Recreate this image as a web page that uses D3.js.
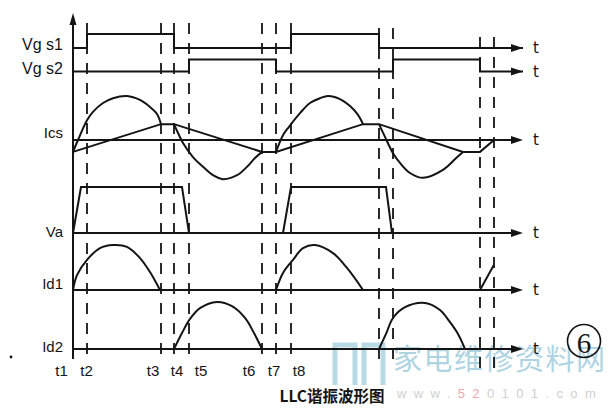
<!DOCTYPE html>
<html><head><meta charset="utf-8">
<script src="https://cdn.jsdelivr.net/npm/d3@7"></script>
<style>html,body{margin:0;padding:0;background:#fff;overflow:hidden}</style>
</head><body><svg id="c" width="614" height="418"></svg>
<script>
// ---------------- data (time in arbitrary units, values per channel) ----------------
const channelNames = ["Vg s1", "Vg s2", "Ics", "Va", "Id1", "Id2"];
const timeLabels = ["t1", "t2", "t3", "t4", "t5", "t6", "t7", "t8"];
const markTimes = [0, 14, 88, 101, 116, 189, 203, 218, 306, 320, 407, 421];
const vgs1 = [[0, 0], [14, 1], [101, 0], [218, 1], [306, 0], [450, 0]];
const vgs2 = [[0, 0], [116, 1], [203, 0], [320, 1], [407, 0], [450, 0]];
const icsArc1 = [[0, -2.7], [5, 0], [14, 4.5], [20, 6.4], [30, 8.4], [40, 9.5], [54, 10], [67, 9.1], [77, 7.5], [84, 5.9], [88, 3.6]];
const icsArc2 = [[101, 3.6], [105, 1.6], [110, -0.7], [120, -3.9], [130, -6.1], [140, -8.0], [150, -8.9], [164, -8.0], [174, -6.1], [182, -4.1], [189, -2.7]];
const icsArc3 = [[203, -2.7], [210, 1.1], [216, 3.0], [227, 6.1], [237, 8.4], [247, 9.5], [255, 10], [267, 9.3], [277, 7.7], [285, 5.7], [290, 3.6]];
const icsArc4 = [[306, 3.6], [312, 0.7], [320, -3.0], [327, -5.2], [337, -7.5], [350, -8.6], [370, -6.8], [384, -3.9], [390, -2.7]];
const imTriangle = [[0, -2.7], [88, 3.6], [101, 3.6], [189, -2.7], [203, -2.7], [290, 3.6], [306, 3.6], [390, -2.7], [407, -2.7], [421, 0]];
const va = [[0, 0], [8, 1], [109, 1], [116, 0], [210, 0], [218, 1], [313, 1], [319, 0]];
const id1Lobe1 = [[0, 0], [4, 0.33], [14, 0.67], [27, 0.93], [40, 1.0], [54, 0.96], [67, 0.71], [77, 0.4], [87, 0]];
const id1Lobe2 = [[203, 0], [210, 0.38], [220, 0.67], [230, 0.93], [242, 1.0], [260, 0.82], [274, 0.49], [290, 0]];
const id1Ramp = [[407, 0], [421, 0.56]];
const id2Lobe1 = [[101, 0], [109, 0.34], [117, 0.64], [127, 0.87], [144, 1.0], [159, 0.91], [172, 0.66], [181, 0.34], [189, 0]];
const id2Lobe2 = [[306, 0], [313, 0.32], [320, 0.66], [332, 0.89], [352, 0.98], [367, 0.83], [377, 0.57], [385, 0.32], [392, 0]];
const caption = "LLC谐振波形图";
const figNumber = "6";
const watermarkName = "家电维修资料网";
const watermarkSite = ["www.", "52", "0101.com"];

// ---------------- layout ----------------
const INK = "#141414";
const svg = d3.select("#c");
svg.append("rect").attr("width", 614).attr("height", 418).attr("fill", "#fff");

const x = d3.scaleLinear().domain([0, 450]).range([73, 523]);
const yS1 = d3.scaleLinear().domain([0, 1]).range([48, 34]);
const yS2 = d3.scaleLinear().domain([0, 1]).range([71.5, 59.5]);
const yIcs = d3.scaleLinear().domain([-10, 10]).range([184, 96]);
const yVa = d3.scaleLinear().domain([0, 1]).range([233, 187]);
const yId1 = d3.scaleLinear().domain([0, 1]).range([290, 245]);
const yId2 = d3.scaleLinear().domain([0, 1]).range([349, 302]);

const labelBase = [50, 74, 138, 237, 289, 352];
const axisYs = [yS1(0), yS2(0), yIcs(0), yVa(0), yId1(0), yId2(0)];
const tickNudge = [-11.5, -0.5, -8, 3, 12, -13, -2, 8];

// watermark (behind)
const wm = svg.append("g").attr("opacity", 0.55);
[[333, 357], [362, 385]].forEach(([a, b]) => {
  wm.append("path").attr("d", `M${a + 2},385 V345 H${b - 2} V385`)
    .attr("fill", "none").attr("stroke", "#7fbcd2").attr("stroke-width", 5);
});
wm.append("text").attr("x", 393).attr("y", 357).attr("dominant-baseline", "central")
  .attr("font-family", "Noto Sans CJK SC").attr("font-size", 29).attr("letter-spacing", 1.5)
  .attr("fill", "#6fb1c9").text(watermarkName);
const site = wm.append("text").attr("x", 397).attr("y", 393).attr("dominant-baseline", "central")
  .attr("font-family", "Liberation Sans").attr("font-size", 13).attr("letter-spacing", 7.4).attr("fill", "#a9a9a9");
site.append("tspan").text(watermarkSite[0]);
site.append("tspan").attr("fill", "#e0606a").text(watermarkSite[1]);
site.append("tspan").text(watermarkSite[2]);

// dashed time markers
const dashExt = i => i <= 7 ? [23, 358] : (i <= 9 ? [28, 365] : [37, 368]);
svg.append("g").selectAll("line").data(markTimes.slice(1)).join("line")
  .attr("x1", d => x(d)).attr("x2", d => x(d))
  .attr("y1", (d, i) => dashExt(i + 1)[0]).attr("y2", (d, i) => dashExt(i + 1)[1])
  .attr("stroke", INK).attr("stroke-width", 1.8).attr("stroke-dasharray", "11,9");

// arrows helper
function arrowRight(yy) {
  const t = x(450);
  svg.append("path").attr("d", `M${t},${yy} L${t - 12},${yy - 4} L${t - 12},${yy + 4} Z`).attr("fill", INK);
}

// y axis
svg.append("line").attr("x1", 73).attr("x2", 73).attr("y1", 359).attr("y2", 22)
  .attr("stroke", INK).attr("stroke-width", 2);
svg.append("path").attr("d", "M73,13 L69.5,25 L76.5,25 Z").attr("fill", INK);

// horizontal axes for Ics, Va, Id1, Id2
[yIcs(0), yVa(0), yId1(0), yId2(0)].forEach(yy => {
  svg.append("line").attr("x1", 73).attr("x2", x(445)).attr("y1", yy).attr("y2", yy)
    .attr("stroke", INK).attr("stroke-width", 2);
});
axisYs.forEach(arrowRight);

// waveform drawing helper
function draw(data, ys, curve) {
  svg.append("path").datum(data)
    .attr("d", d3.line().x(d => x(d[0])).y(d => ys(d[1])).curve(curve))
    .attr("fill", "none").attr("stroke", INK).attr("stroke-width", 2).attr("stroke-linejoin", "miter");
}
const smooth = d3.curveCatmullRom.alpha(0.5);
draw(vgs1.map(d => d), yS1, d3.curveStepAfter);
draw(vgs2, yS2, d3.curveStepAfter);
draw(imTriangle, yIcs, d3.curveLinear);
[icsArc1, icsArc2, icsArc3, icsArc4].forEach(a => draw(a, yIcs, smooth));
draw(va, yVa, d3.curveLinear);
[id1Lobe1, id1Lobe2].forEach(a => draw(a, yId1, smooth));
draw(id1Ramp, yId1, d3.curveLinear);
[id2Lobe1, id2Lobe2].forEach(a => draw(a, yId2, smooth));

// channel labels
svg.append("g").selectAll("text").data(channelNames).join("text")
  .attr("x", 63).attr("y", (d, i) => labelBase[i]).attr("text-anchor", "end")
  .attr("font-family", "Liberation Sans").attr("font-size", (d, i) => i < 2 ? 16 : 15)
  .attr("fill", INK).text(d => d);

// "t" at the end of each axis
svg.append("g").selectAll("text").data(axisYs).join("text")
  .attr("x", 536).attr("y", d => d).attr("text-anchor", "middle").attr("dominant-baseline", "central")
  .attr("font-family", "DejaVu Sans").attr("font-size", 15).attr("fill", INK).text("t");

// time labels under the axis
svg.append("g").selectAll("text").data(timeLabels).join("text")
  .attr("x", (d, i) => x(markTimes[i]) + tickNudge[i]).attr("y", 370)
  .attr("text-anchor", "middle").attr("dominant-baseline", "central")
  .attr("font-family", "Liberation Sans").attr("font-size", 15).attr("fill", INK).text(d => d);

// caption
svg.append("text").attr("x", 332).attr("y", 395).attr("text-anchor", "middle").attr("dominant-baseline", "central")
  .attr("font-family", "Noto Sans CJK SC").attr("font-weight", "bold").attr("font-size", 15.5)
  .attr("fill", INK).text(caption);

// circled figure number
svg.append("circle").attr("cx", 584).attr("cy", 341).attr("r", 16.5)
  .attr("fill", "none").attr("stroke", INK).attr("stroke-width", 1.6);
svg.append("text").attr("x", 584).attr("y", 343).attr("text-anchor", "middle").attr("dominant-baseline", "central")
  .attr("font-family", "Liberation Serif").attr("font-size", 29).attr("fill", INK).text(figNumber);

// stray dot
svg.append("circle").attr("cx", 11).attr("cy", 357).attr("r", 1.4).attr("fill", INK);
</script></body></html>
